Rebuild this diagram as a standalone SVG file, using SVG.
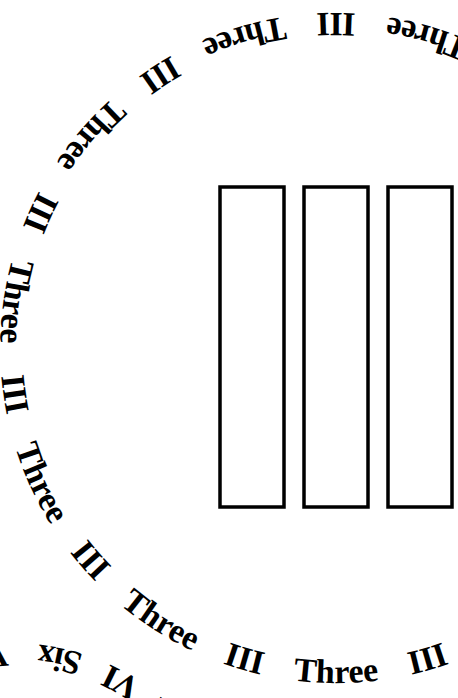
<svg xmlns="http://www.w3.org/2000/svg" xmlns:xlink="http://www.w3.org/1999/xlink" width="458" height="698" viewBox="0 0 458 698">
  <style>
    .ring { font-family: "Liberation Serif", "Times New Roman", serif; font-weight: bold; font-size: 34px; fill: #000; }
    .bar { fill: #fff; stroke: #000; stroke-width: 3.5; }
  </style>
  <defs>
    <path id="threeCircle" d="M288.33,679.59 A335,335 0 1,0 383.67,16.41 A335,335 0 1,0 288.33,679.59"/>
    <path id="sixCircle" d="M209.86,756 A225,225 0 1,0 -179.86,981 A225,225 0 1,0 209.86,756"/>
  </defs>
  <rect x="0" y="0" width="458" height="698" fill="#fff"/>
  <g id="ring-three" class="ring" text-anchor="middle">
    <text><textPath xlink:href="#threeCircle" href="#threeCircle" startOffset="2.2727%">Three</textPath></text>
    <text><textPath xlink:href="#threeCircle" href="#threeCircle" startOffset="6.8182%">III</textPath></text>
    <text><textPath xlink:href="#threeCircle" href="#threeCircle" startOffset="47.7273%">Three</textPath></text>
    <text><textPath xlink:href="#threeCircle" href="#threeCircle" startOffset="52.2727%">III</textPath></text>
    <text><textPath xlink:href="#threeCircle" href="#threeCircle" startOffset="56.8182%">Three</textPath></text>
    <text><textPath xlink:href="#threeCircle" href="#threeCircle" startOffset="61.3636%">III</textPath></text>
    <text><textPath xlink:href="#threeCircle" href="#threeCircle" startOffset="65.9091%">Three</textPath></text>
    <text><textPath xlink:href="#threeCircle" href="#threeCircle" startOffset="70.4545%">III</textPath></text>
    <text><textPath xlink:href="#threeCircle" href="#threeCircle" startOffset="75%">Three</textPath></text>
    <text><textPath xlink:href="#threeCircle" href="#threeCircle" startOffset="79.5455%">III</textPath></text>
    <text><textPath xlink:href="#threeCircle" href="#threeCircle" startOffset="84.0909%">Three</textPath></text>
    <text><textPath xlink:href="#threeCircle" href="#threeCircle" startOffset="88.6364%">III</textPath></text>
    <text><textPath xlink:href="#threeCircle" href="#threeCircle" startOffset="93.1818%">Three</textPath></text>
    <text><textPath xlink:href="#threeCircle" href="#threeCircle" startOffset="97.7273%">III</textPath></text>
  </g>
  <g id="ring-six" class="ring" text-anchor="middle">
    <text><textPath xlink:href="#sixCircle" href="#sixCircle" startOffset="55">Six</textPath></text>
    <text><textPath xlink:href="#sixCircle" href="#sixCircle" startOffset="119.5">VI</textPath></text>
    <text><textPath xlink:href="#sixCircle" href="#sixCircle" startOffset="188.6">Six</textPath></text>
    <text><textPath xlink:href="#sixCircle" href="#sixCircle" startOffset="262">VI</textPath></text>
  </g>
  <g id="bar-1"><rect class="bar" x="220" y="187" width="64" height="320"/></g>
  <g id="bar-2"><rect class="bar" x="304" y="187" width="64" height="320"/></g>
  <g id="bar-3"><rect class="bar" x="388" y="187" width="64" height="320"/></g>
</svg>
